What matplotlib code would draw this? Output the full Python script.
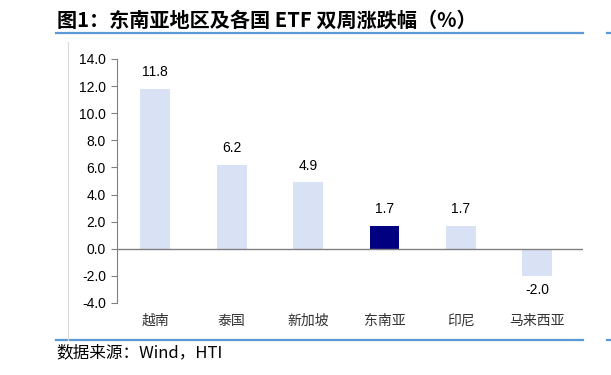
import matplotlib
matplotlib.use("Agg")
import matplotlib.pyplot as plt
from matplotlib.lines import Line2D

plt.rcParams['font.family'] = ['Liberation Sans', 'Noto Sans CJK SC', 'DejaVu Sans']

categories = ["越南", "泰国", "新加坡", "东南亚", "印尼", "马来西亚"]
values = [11.8, 6.2, 4.9, 1.7, 1.7, -2.0]
highlight = "东南亚"
yticks = [-4.0, -2.0, 0.0, 2.0, 4.0, 6.0, 8.0, 10.0, 12.0, 14.0]

light = "#D9E1F4"
dark = "#000080"
blue_line = "#5B9BD5"

fig = plt.figure(figsize=(6.11, 3.75), dpi=100)
ax = fig.add_axes([0.1915, 0.192, 0.763, 0.6507])

colors = [dark if c == highlight else light for c in categories]
x = list(range(len(categories)))
ax.bar(x, values, width=0.39, color=colors, zorder=2)

for xi, v in zip(x, values):
    if v >= 0:
        ax.text(xi, v + 0.7, f"{v:.1f}", ha="center", va="bottom", fontsize=10)
    else:
        ax.text(xi, v - 0.5, f"{v:.1f}", ha="center", va="top", fontsize=10)

ax.axhline(0, color="#808080", lw=1, zorder=3)
ax.set_xlim(-0.5, len(categories) - 0.4)
ax.set_ylim(-4, 14)
ax.set_yticks(yticks)
ax.set_yticklabels([f"{t:.1f}" for t in yticks], fontsize=10)
ax.set_xticks(x)
ax.set_xticklabels(categories, fontsize=10, color="#333333", family=['Noto Sans CJK SC'])
ax.tick_params(axis="x", length=0, pad=8)
ax.tick_params(axis="y", direction="out", length=4, color="#808080", pad=4)
for s in ["top", "right", "bottom"]:
    ax.spines[s].set_visible(False)
ax.spines["left"].set_color("#808080")

# title and frame decorations
fig.text(0.093, 0.945, "图1：东南亚地区及各国 ETF 双周涨跌幅（%）", fontsize=14.5,
         fontweight="bold", family=['Noto Sans CJK SC', 'DejaVu Sans'], va="center")
fig.add_artist(Line2D([0.092, 0.954], [0.912, 0.912], color=blue_line, lw=1.6))
fig.add_artist(Line2D([0.092, 0.954], [0.093, 0.093], color=blue_line, lw=1.6))
fig.add_artist(Line2D([0.993, 1.0], [0.912, 0.912], color=blue_line, lw=1.6))
fig.add_artist(Line2D([0.993, 1.0], [0.093, 0.093], color=blue_line, lw=1.6))
fig.add_artist(Line2D([0.111, 0.111], [0.093, 0.888], color="#D9D9D9", lw=0.8))
fig.text(0.093, 0.058, "数据来源：Wind，HTI", fontsize=12,
         family=['Noto Sans CJK SC', 'DejaVu Sans'], va="center")

fig.savefig("out.png", dpi=100)
